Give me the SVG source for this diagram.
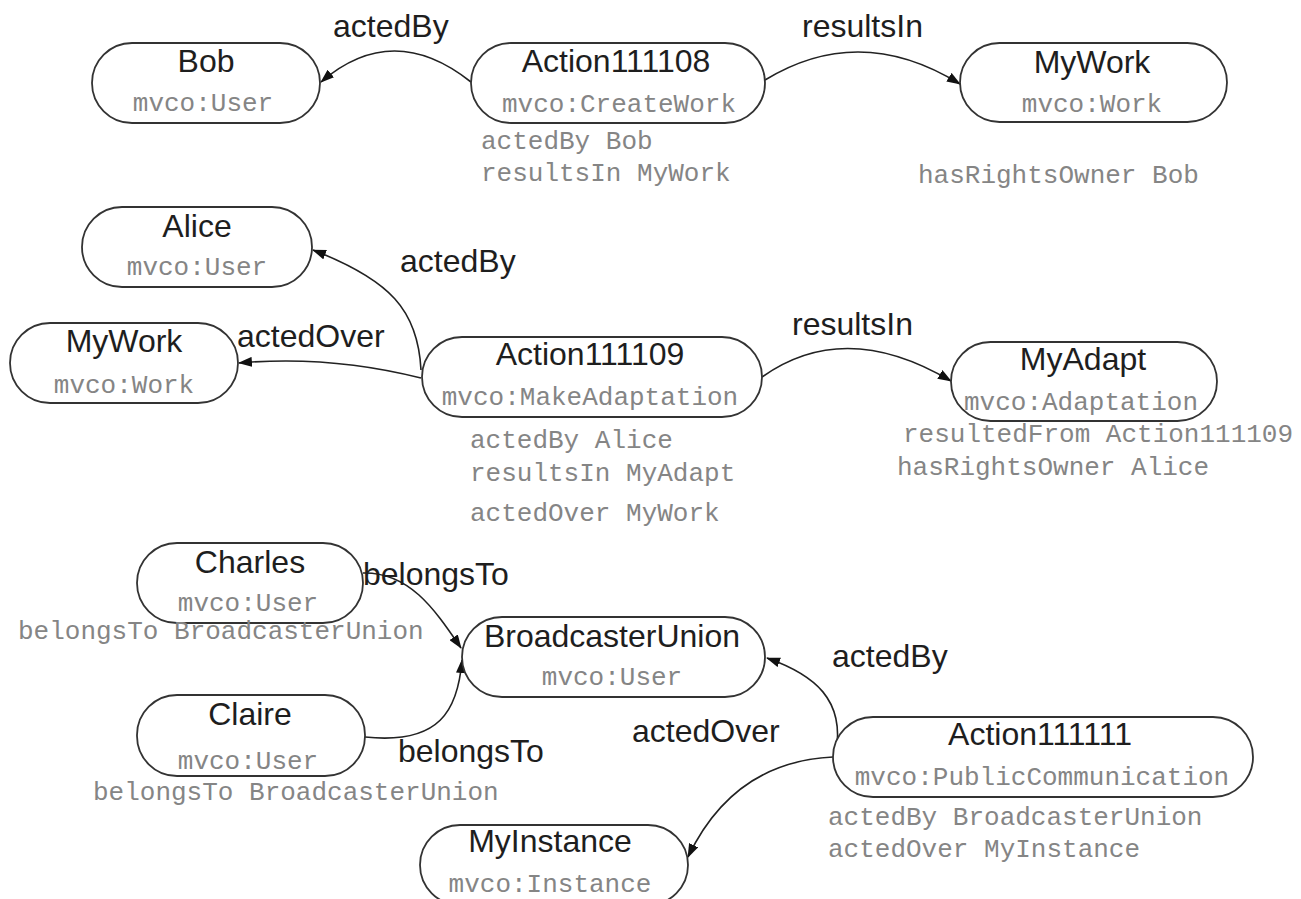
<svg xmlns="http://www.w3.org/2000/svg" width="1301" height="899" viewBox="0 0 1301 899">
  <style>
    .node { fill: #ffffff; stroke: #333333; stroke-width: 1.8; }
    .title { font-family: "Liberation Sans", Arial, sans-serif; font-size: 32px; fill: #1e1e1e; text-anchor: middle; }
    .type { font-family: "Liberation Mono", "Courier New", monospace; font-size: 26px; fill: #858585; text-anchor: middle; }
    .note { font-family: "Liberation Mono", "Courier New", monospace; font-size: 26px; fill: #858585; }
    .label { font-family: "Liberation Sans", Arial, sans-serif; font-size: 32px; fill: #1e1e1e; }
    .edge { fill: none; stroke: #222222; stroke-width: 1.6; marker-end: url(#arrow); }
  </style>
  <defs>
    <marker id="arrow" markerUnits="userSpaceOnUse" markerWidth="14" markerHeight="10" refX="13" refY="5" orient="auto">
      <path d="M0,0 L14,5 L0,10 Z" fill="#111111"/>
    </marker>
  </defs>
  <rect width="1301" height="899" fill="#ffffff"/>

  <!-- connectors and their labels -->
  <g id="connectors">
    <path class="edge" d="M471,82 Q393,20 321,82"/>
    <path class="edge" d="M765,80 Q860,22 960,84"/>
    <path class="edge" d="M421,370 C418,310 390,280 313,250"/>
    <path class="edge" d="M421,378 Q330,355 239,363"/>
    <path class="edge" d="M762,377 Q845,318 951,381"/>
    <path class="edge" d="M363,573 C410,572 435,610 461,648"/>
    <path class="edge" d="M365,737 C440,745 458,710 462,660"/>
    <path class="edge" d="M836,752 C845,700 815,675 767,658"/>
    <path class="edge" d="M833,757 C770,760 720,790 688,857"/>

    <text class="label" x="333" y="37">actedBy</text>
    <text class="label" x="802" y="37">resultsIn</text>
    <text class="label" x="400" y="272">actedBy</text>
    <text class="label" x="237" y="347">actedOver</text>
    <text class="label" x="792" y="335">resultsIn</text>
    <text class="label" x="363" y="585">belongsTo</text>
    <text class="label" x="398" y="762">belongsTo</text>
    <text class="label" x="832" y="667">actedBy</text>
    <text class="label" x="632" y="742">actedOver</text>
  </g>

  <g id="bob">
    <rect class="node" x="92" y="43" width="228" height="80" rx="40" ry="40"/>
    <text class="title" x="206" y="72">Bob</text>
    <text class="type" x="203" y="111">mvco:User</text>
  </g>

  <g id="action111108">
    <rect class="node" x="471" y="43" width="294" height="80" rx="40" ry="40"/>
    <text class="title" x="616" y="72">Action111108</text>
    <text class="type" x="619" y="112">mvco:CreateWork</text>
    <text class="note" x="481" y="149">actedBy Bob</text>
    <text class="note" x="481" y="181">resultsIn MyWork</text>
  </g>

  <g id="mywork-created">
    <rect class="node" x="960" y="43" width="267" height="79" rx="39.5" ry="39.5"/>
    <text class="title" x="1092" y="73">MyWork</text>
    <text class="type" x="1092" y="112">mvco:Work</text>
    <text class="note" x="918" y="183">hasRightsOwner Bob</text>
  </g>

  <g id="alice">
    <rect class="node" x="82" y="207" width="230" height="80" rx="40" ry="40"/>
    <text class="title" x="197" y="237">Alice</text>
    <text class="type" x="197" y="275">mvco:User</text>
  </g>

  <g id="mywork-source">
    <rect class="node" x="10" y="323" width="228" height="80" rx="40" ry="40"/>
    <text class="title" x="124" y="352">MyWork</text>
    <text class="type" x="124" y="393">mvco:Work</text>
  </g>

  <g id="action111109">
    <rect class="node" x="422" y="337" width="340" height="80" rx="40" ry="40"/>
    <text class="title" x="590" y="365">Action111109</text>
    <text class="type" x="590" y="405">mvco:MakeAdaptation</text>
    <text class="note" x="470" y="448">actedBy Alice</text>
    <text class="note" x="470" y="481">resultsIn MyAdapt</text>
    <text class="note" x="470" y="521">actedOver MyWork</text>
  </g>

  <g id="myadapt">
    <rect class="node" x="951" y="342" width="266" height="79" rx="39.5" ry="39.5"/>
    <text class="title" x="1083" y="370">MyAdapt</text>
    <text class="type" x="1081" y="410">mvco:Adaptation</text>
    <text class="note" x="903" y="442">resultedFrom Action111109</text>
    <text class="note" x="897" y="475">hasRightsOwner Alice</text>
  </g>

  <g id="charles">
    <rect class="node" x="137" y="543" width="226" height="80" rx="40" ry="40"/>
    <text class="title" x="250" y="573">Charles</text>
    <text class="type" x="248" y="611">mvco:User</text>
    <text class="note" x="18" y="639">belongsTo BroadcasterUnion</text>
  </g>

  <g id="claire">
    <rect class="node" x="137" y="695" width="228" height="81" rx="40" ry="40"/>
    <text class="title" x="250" y="725">Claire</text>
    <text class="type" x="248" y="769">mvco:User</text>
    <text class="note" x="93" y="800">belongsTo BroadcasterUnion</text>
  </g>

  <g id="broadcasterunion">
    <rect class="node" x="462" y="617" width="303" height="80" rx="40" ry="40"/>
    <text class="title" x="612" y="647">BroadcasterUnion</text>
    <text class="type" x="612" y="685">mvco:User</text>
  </g>

  <g id="action111111">
    <rect class="node" x="833" y="717" width="420" height="80" rx="40" ry="40"/>
    <text class="title" x="1040" y="745">Action111111</text>
    <text class="type" x="1042" y="785">mvco:PublicCommunication</text>
    <text class="note" x="828" y="825">actedBy BroadcasterUnion</text>
    <text class="note" x="828" y="857">actedOver MyInstance</text>
  </g>

  <g id="myinstance">
    <rect class="node" x="420" y="825" width="268" height="80" rx="40" ry="40"/>
    <text class="title" x="550" y="852">MyInstance</text>
    <text class="type" x="550" y="892">mvco:Instance</text>
  </g>
</svg>
